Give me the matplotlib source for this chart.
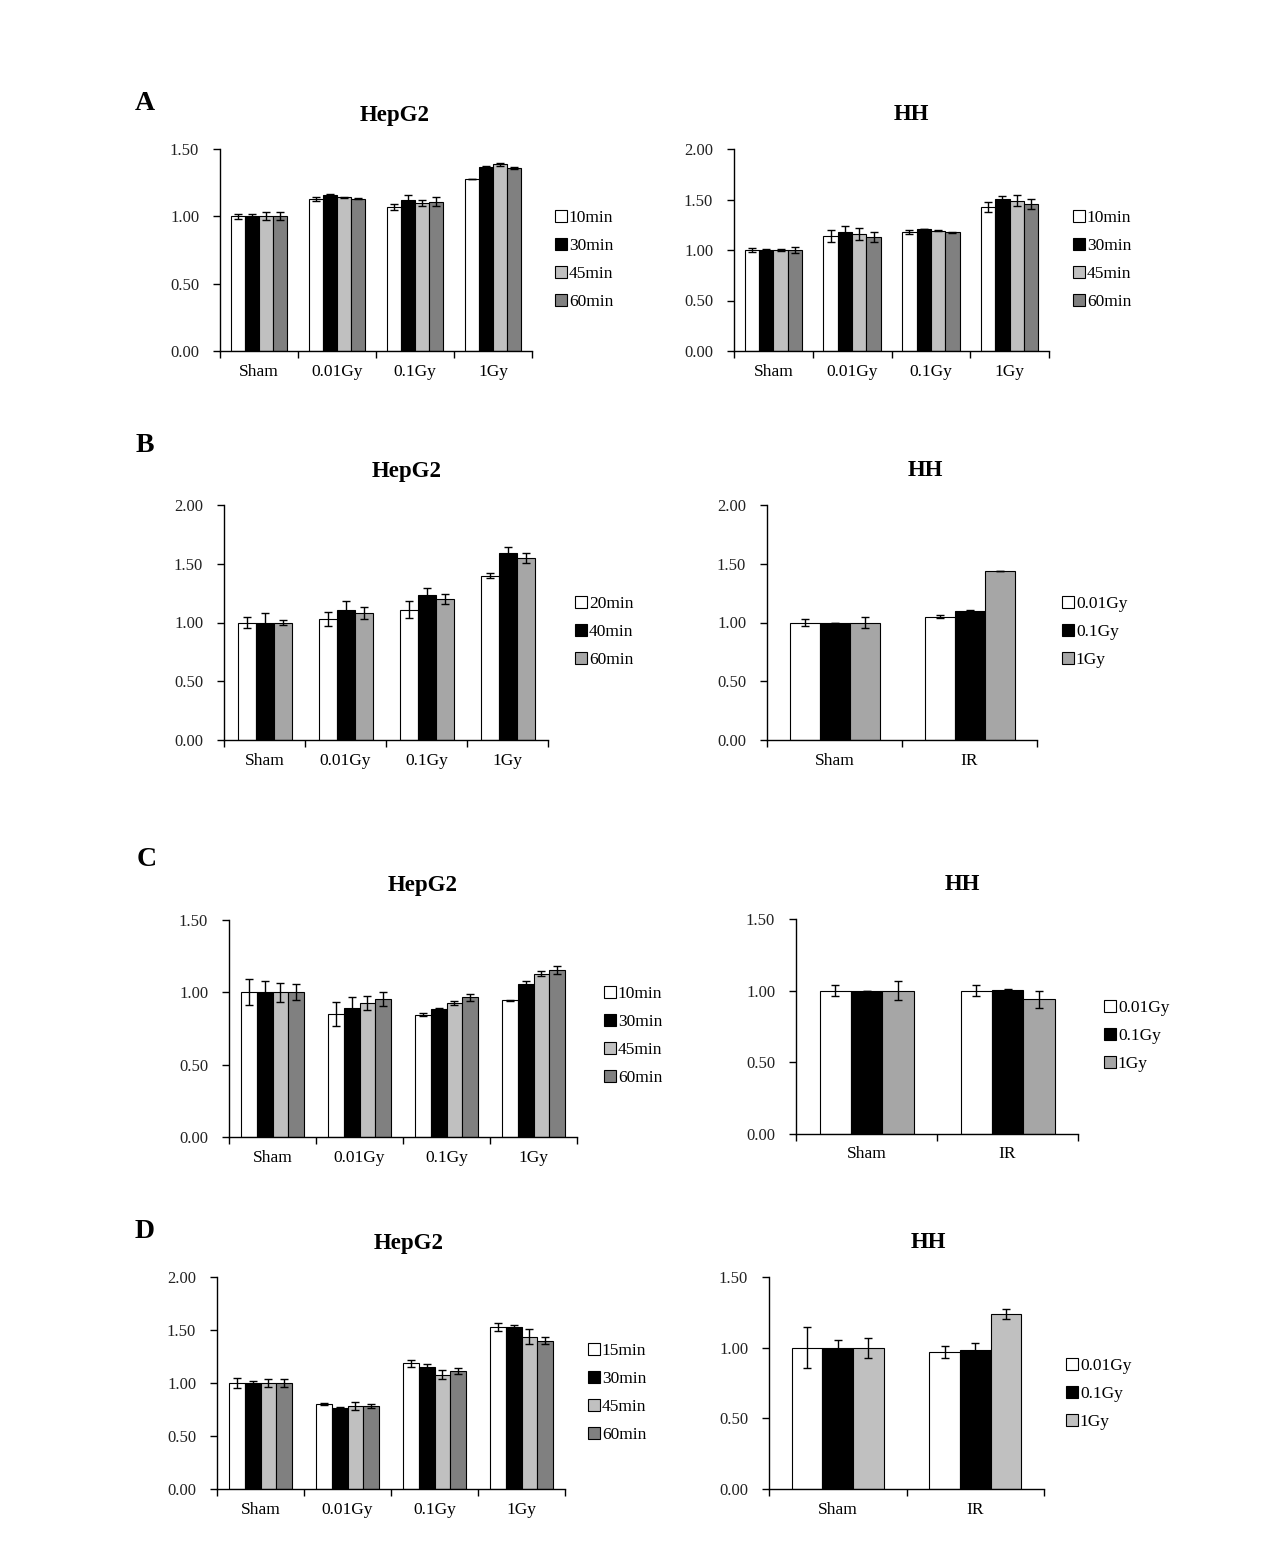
import matplotlib
matplotlib.use("Agg")
import matplotlib.pyplot as plt
import numpy as np

plt.rcParams['font.family'] = ['Liberation Serif', 'DejaVu Serif']

W, H = 1265, 1547

# ---------------- data ----------------
dose_cats = ["Sham", "0.01Gy", "0.1Gy", "1Gy"]
ir_cats = ["Sham", "IR"]

# Panel A
a_series = ["10min", "30min", "45min", "60min"]
a_hepg2_vals = [[1.00, 1.13, 1.07, 1.28],
                [1.00, 1.16, 1.12, 1.37],
                [1.00, 1.14, 1.10, 1.385],
                [1.00, 1.13, 1.11, 1.36]]
a_hepg2_err = [[0.02, 0.015, 0.02, 0.0],
               [0.02, 0.005, 0.04, 0.005],
               [0.03, 0.005, 0.02, 0.01],
               [0.03, 0.003, 0.03, 0.01]]
a_hh_vals = [[1.00, 1.14, 1.175, 1.43],
             [1.00, 1.175, 1.21, 1.505],
             [1.00, 1.16, 1.19, 1.49],
             [1.00, 1.125, 1.175, 1.455]]
a_hh_err = [[0.02, 0.06, 0.02, 0.05],
            [0.005, 0.06, 0.0, 0.03],
            [0.01, 0.06, 0.005, 0.05],
            [0.03, 0.05, 0.005, 0.05]]

# Panel B
b_series = ["20min", "40min", "60min"]
b_hepg2_vals = [[1.00, 1.03, 1.11, 1.40],
                [1.00, 1.11, 1.235, 1.595],
                [1.00, 1.08, 1.20, 1.55]]
b_hepg2_err = [[0.045, 0.06, 0.07, 0.02],
               [0.08, 0.07, 0.06, 0.05],
               [0.02, 0.05, 0.04, 0.04]]
b_hh_series = ["0.01Gy", "0.1Gy", "1Gy"]
b_hh_vals = [[1.00, 1.05],
             [1.00, 1.10],
             [1.00, 1.44]]
b_hh_err = [[0.03, 0.01],
            [0.0, 0.005],
            [0.05, 0.0]]

# Panel C
c_series = ["10min", "30min", "45min", "60min"]
c_hepg2_vals = [[1.00, 0.85, 0.845, 0.945],
                [1.00, 0.895, 0.885, 1.06],
                [1.00, 0.925, 0.925, 1.13],
                [1.00, 0.955, 0.965, 1.155]]
c_hepg2_err = [[0.09, 0.085, 0.01, 0.002],
               [0.08, 0.07, 0.004, 0.015],
               [0.065, 0.05, 0.015, 0.02],
               [0.055, 0.05, 0.025, 0.025]]
c_hh_series = ["0.01Gy", "0.1Gy", "1Gy"]
c_hh_vals = [[1.00, 1.00],
             [1.00, 1.007],
             [1.00, 0.94]]
c_hh_err = [[0.04, 0.04],
            [0.0, 0.002],
            [0.065, 0.06]]

# Panel D
d_series = ["15min", "30min", "45min", "60min"]
d_hepg2_vals = [[1.00, 0.80, 1.185, 1.53],
                [1.00, 0.765, 1.155, 1.53],
                [1.00, 0.785, 1.08, 1.435],
                [1.00, 0.78, 1.115, 1.40]]
d_hepg2_err = [[0.045, 0.01, 0.03, 0.035],
               [0.02, 0.005, 0.02, 0.02],
               [0.035, 0.04, 0.04, 0.07],
               [0.035, 0.02, 0.03, 0.03]]
d_hh_series = ["0.01Gy", "0.1Gy", "1Gy"]
d_hh_vals = [[1.00, 0.97],
             [1.00, 0.98],
             [1.00, 1.24]]
d_hh_err = [[0.145, 0.045],
            [0.055, 0.055],
            [0.07, 0.035]]

# ---------------- styles ----------------
colors4 = ["white", "black", "#C0C0C0", "#808080"]
colors3b = ["white", "black", "#A6A6A6"]
colors3c = ["white", "black", "#A6A6A6"]
colors3d = ["white", "black", "#C0C0C0"]

fig = plt.figure(figsize=(W / 100, H / 100), dpi=100)
fig.patch.set_facecolor("white")


def px_axes(x0, x1, y0, ytop):
    return fig.add_axes([x0 / W, 1 - y0 / H, (x1 - x0) / W, (y0 - ytop) / H])


def panel(x0, x1, y0, ytop, ymax, cats, series, vals, errs, colors, title,
          title_x, leg_x, leg_y):
    ax = px_axes(x0, x1, y0, ytop)
    ncat = len(cats)
    n = len(series)
    b = 1.0 / (n + 1.5)
    centers = np.arange(ncat) + 0.5
    handles = []
    for k in range(n):
        xs = centers - n * b / 2 + (k + 0.5) * b
        h = ax.bar(xs, vals[k], width=b, color=colors[k], edgecolor="black",
                   linewidth=0.8, zorder=2)
        ax.errorbar(xs, vals[k], yerr=errs[k], fmt="none", ecolor="black",
                    elinewidth=1.0, capsize=3.2, capthick=1.0, zorder=3)
        handles.append(h)
    ax.set_xlim(0, ncat)
    ax.set_ylim(0, ymax)
    ticks = np.arange(0, ymax + 0.001, 0.5)
    ax.set_yticks(ticks)
    ax.set_yticklabels(["%.2f" % v for v in ticks], fontsize=12,
                       color="#222222")
    ax.set_xticks(np.arange(ncat + 1))
    ax.set_xticklabels([])
    ax.set_xticks(centers, minor=True)
    ax.set_xticklabels(cats, minor=True, fontsize=12.5)
    ax.tick_params(axis="x", which="minor", length=0, pad=9)
    ax.tick_params(axis="x", which="major", length=5, width=1, direction="out")
    ax.tick_params(axis="y", length=5, width=1, direction="out", pad=10)
    for s in ["top", "right"]:
        ax.spines[s].set_visible(False)
    for s in ["left", "bottom"]:
        ax.spines[s].set_linewidth(1.0)
    ax.patch.set_alpha(0)
    fig.text(title_x / W, 1 - (ytop - 34) / H, title,
             fontsize=16.5, fontweight="bold", ha="center", va="center")
    ax.legend(handles, series, loc="upper left",
              bbox_to_anchor=(leg_x / W, 1 - leg_y / H),
              bbox_transform=fig.transFigure, frameon=False,
              fontsize=12.5, handlelength=0.7, handleheight=0.7,
              handletextpad=0.1, labelspacing=0.68, borderpad=0,
              borderaxespad=0)
    return ax


# Panel A
panel(220, 532, 351, 149, 1.5, dose_cats, a_series, a_hepg2_vals, a_hepg2_err,
      colors4, "HepG2", 395, 555, 210)
panel(734, 1049, 351, 149, 2.0, dose_cats, a_series, a_hh_vals, a_hh_err,
      colors4, "HH", 911, 1073, 210)
# Panel B
panel(224, 548, 740, 505, 2.0, dose_cats, b_series, b_hepg2_vals, b_hepg2_err,
      colors3b, "HepG2", 407, 575, 596)
panel(767, 1037, 740, 505, 2.0, ir_cats, b_hh_series, b_hh_vals, b_hh_err,
      colors3b, "HH", 925, 1062, 596)
# Panel C
panel(229, 577, 1137, 920, 1.5, dose_cats, c_series, c_hepg2_vals, c_hepg2_err,
      colors4, "HepG2", 423, 604, 986)
panel(796, 1078, 1134, 919, 1.5, ir_cats, c_hh_series, c_hh_vals, c_hh_err,
      colors3c, "HH", 962, 1104, 1000)
# Panel D
panel(217, 565, 1489, 1277, 2.0, dose_cats, d_series, d_hepg2_vals, d_hepg2_err,
      colors4, "HepG2", 409, 588, 1343)
panel(769, 1044, 1489, 1277, 1.5, ir_cats, d_hh_series, d_hh_vals, d_hh_err,
      colors3d, "HH", 928, 1066, 1358)

# Panel letters
for letter, (lx, ly) in {"A": (145, 103), "B": (145, 446),
                         "C": (147, 860), "D": (145, 1232)}.items():
    fig.text(lx / W, 1 - ly / H, letter, fontsize=20, fontweight="bold",
             ha="center", va="center")

fig.savefig("out.png", dpi=100, facecolor="white")
